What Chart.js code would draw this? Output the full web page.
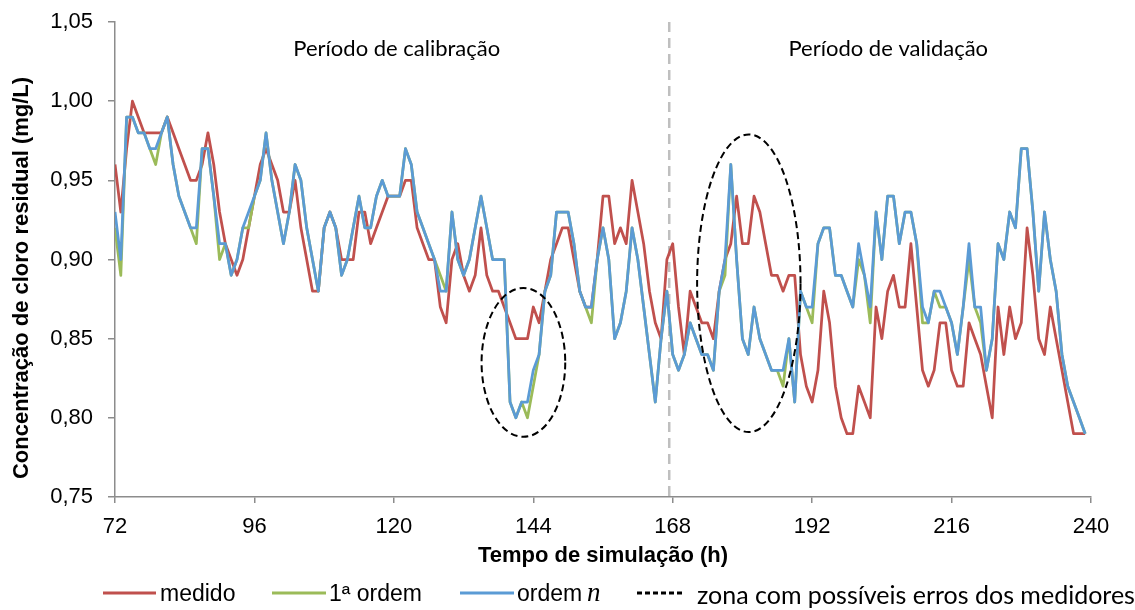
<!DOCTYPE html>
<html lang="pt">
<head>
<meta charset="UTF-8">
<title>Cloro residual - medido vs simulado</title>
<script src="https://cdn.jsdelivr.net/npm/chart.js"></script>
<style>
  body { margin: 0; background: #fff; }
  #wrap { width: 1135px; height: 610px; }
</style>
</head>
<body>
<div id="wrap"><canvas id="cloroChart" width="1135" height="610"></canvas></div>
<script>
// tempo de simulação (h), passo horário de 72 a 239
const horas = Array.from({ length: 168 }, (_, i) => 72 + i);

const medido = [
  0.96, 0.93, 0.97, 1.00, 0.99, 0.98, 0.98, 0.98, 0.98, 0.99,
  0.98, 0.97, 0.96, 0.95, 0.95, 0.96, 0.98, 0.96, 0.93, 0.91,
  0.90, 0.89, 0.90, 0.92, 0.94, 0.96, 0.97, 0.96, 0.95, 0.93,
  0.93, 0.95, 0.92, 0.90, 0.88, 0.88, 0.92, 0.93, 0.92, 0.90,
  0.90, 0.90, 0.93, 0.93, 0.91, 0.92, 0.93, 0.94, 0.94, 0.94,
  0.95, 0.95, 0.92, 0.91, 0.90, 0.90, 0.87, 0.86, 0.90, 0.91,
  0.89, 0.88, 0.89, 0.92, 0.89, 0.88, 0.88, 0.87, 0.86, 0.85,
  0.85, 0.85, 0.87, 0.86, 0.88, 0.90, 0.91, 0.92, 0.92, 0.90,
  0.88, 0.87, 0.87, 0.90, 0.94, 0.94, 0.91, 0.92, 0.91, 0.95,
  0.93, 0.91, 0.88, 0.86, 0.85, 0.90, 0.91, 0.87, 0.84, 0.88,
  0.87, 0.86, 0.86, 0.85, 0.88, 0.90, 0.91, 0.94, 0.91, 0.91,
  0.94, 0.93, 0.91, 0.89, 0.89, 0.88, 0.89, 0.89, 0.84, 0.82,
  0.81, 0.83, 0.88, 0.86, 0.82, 0.80, 0.79, 0.79, 0.82, 0.81,
  0.80, 0.87, 0.85, 0.88, 0.89, 0.87, 0.87, 0.91, 0.87, 0.83,
  0.82, 0.83, 0.86, 0.86, 0.83, 0.82, 0.82, 0.86, 0.85, 0.84,
  0.82, 0.80, 0.87, 0.84, 0.87, 0.85, 0.86, 0.92, 0.89, 0.85,
  0.84, 0.87, 0.85, 0.83, 0.81, 0.79, 0.79, 0.79
];

const primeiraOrdem = [
  0.92, 0.89, 0.99, 0.99, 0.98, 0.98, 0.97, 0.96, 0.98, 0.99,
  0.96, 0.94, 0.93, 0.92, 0.91, 0.97, 0.97, 0.94, 0.90, 0.91,
  0.89, 0.90, 0.92, 0.92, 0.94, 0.95, 0.98, 0.95, 0.93, 0.91,
  0.93, 0.96, 0.95, 0.92, 0.90, 0.88, 0.92, 0.93, 0.92, 0.89,
  0.90, 0.92, 0.94, 0.92, 0.92, 0.94, 0.95, 0.94, 0.94, 0.94,
  0.97, 0.96, 0.93, 0.92, 0.91, 0.90, 0.89, 0.88, 0.93, 0.90,
  0.89, 0.90, 0.92, 0.94, 0.92, 0.90, 0.90, 0.90, 0.81, 0.80,
  0.81, 0.80, 0.82, 0.84, 0.88, 0.89, 0.93, 0.93, 0.93, 0.91,
  0.88, 0.87, 0.86, 0.90, 0.92, 0.90, 0.85, 0.86, 0.88, 0.92,
  0.90, 0.87, 0.84, 0.81, 0.85, 0.88, 0.84, 0.83, 0.84, 0.86,
  0.85, 0.84, 0.84, 0.83, 0.88, 0.89, 0.96, 0.90, 0.85, 0.84,
  0.87, 0.85, 0.84, 0.83, 0.83, 0.82, 0.85, 0.81, 0.88, 0.87,
  0.86, 0.91, 0.92, 0.92, 0.89, 0.89, 0.88, 0.87, 0.90, 0.89,
  0.86, 0.93, 0.90, 0.94, 0.94, 0.91, 0.93, 0.93, 0.91, 0.86,
  0.86, 0.88, 0.87, 0.87, 0.86, 0.84, 0.87, 0.90, 0.87, 0.86,
  0.83, 0.85, 0.91, 0.90, 0.93, 0.92, 0.97, 0.97, 0.93, 0.88,
  0.93, 0.90, 0.88, 0.84, 0.82, 0.81, 0.80, 0.79
];

const ordemN = [
  0.93, 0.90, 0.99, 0.99, 0.98, 0.98, 0.97, 0.97, 0.98, 0.99,
  0.96, 0.94, 0.93, 0.92, 0.92, 0.97, 0.97, 0.94, 0.91, 0.91,
  0.89, 0.90, 0.92, 0.93, 0.94, 0.95, 0.98, 0.95, 0.93, 0.91,
  0.93, 0.96, 0.95, 0.92, 0.90, 0.88, 0.92, 0.93, 0.92, 0.89,
  0.90, 0.92, 0.94, 0.92, 0.92, 0.94, 0.95, 0.94, 0.94, 0.94,
  0.97, 0.96, 0.93, 0.92, 0.91, 0.90, 0.88, 0.88, 0.93, 0.90,
  0.89, 0.90, 0.92, 0.94, 0.92, 0.90, 0.90, 0.90, 0.81, 0.80,
  0.81, 0.81, 0.83, 0.84, 0.88, 0.89, 0.93, 0.93, 0.93, 0.91,
  0.88, 0.87, 0.87, 0.90, 0.92, 0.90, 0.85, 0.86, 0.88, 0.92,
  0.90, 0.87, 0.84, 0.81, 0.85, 0.88, 0.84, 0.83, 0.84, 0.86,
  0.85, 0.84, 0.84, 0.83, 0.88, 0.90, 0.96, 0.90, 0.85, 0.84,
  0.87, 0.85, 0.84, 0.83, 0.83, 0.83, 0.85, 0.81, 0.88, 0.87,
  0.87, 0.91, 0.92, 0.92, 0.89, 0.89, 0.88, 0.87, 0.91, 0.89,
  0.87, 0.93, 0.90, 0.94, 0.94, 0.91, 0.93, 0.93, 0.91, 0.87,
  0.86, 0.88, 0.88, 0.87, 0.86, 0.84, 0.87, 0.91, 0.87, 0.87,
  0.83, 0.85, 0.91, 0.90, 0.93, 0.92, 0.97, 0.97, 0.93, 0.88,
  0.93, 0.90, 0.88, 0.84, 0.82, 0.81, 0.80, 0.79
];

const ticksX = [72, 96, 120, 144, 168, 192, 216, 240];
const ticksY = [0.75, 0.80, 0.85, 0.90, 0.95, 1.00, 1.05];

// fim do período de calibração (h)
const fimCalibracao = 167.4;
// zonas com possíveis erros dos medidores: [centro h, centro mg/L, raio h, raio mg/L]
const zonasErro = [
  [142.3, 0.835, 7.2, 0.047],
  [181.1, 0.885, 8.9, 0.094]
];
const periodos = [
  { texto: 'Período de calibração', h: 120.5 },
  { texto: 'Período de validação', h: 205.1 }
];

const corEixo = '#8c8c8c';
const fonteArial = '"Liberation Sans", Arial, sans-serif';
const fonteCalibri = 'Lato, "Open Sans", sans-serif';

const toPoints = serie => horas.map((h, i) => ({ x: h, y: serie[i] }));

// elementos extra: linha de separação, elipses, rótulos e legenda
const extras = {
  id: 'extras',
  beforeDatasetsDraw(chart) {
    const { ctx, chartArea, scales } = chart;
    const x = scales.x.getPixelForValue(fimCalibracao);
    ctx.save();
    ctx.strokeStyle = '#bfbfbf';
    ctx.lineWidth = 2.5;
    ctx.setLineDash([10, 6]);
    ctx.beginPath();
    ctx.moveTo(x, chartArea.top);
    ctx.lineTo(x, chartArea.bottom);
    ctx.stroke();
    ctx.restore();
  },
  afterDatasetsDraw(chart) {
    const { ctx, scales } = chart;
    const sx = scales.x, sy = scales.y;
    ctx.save();
    ctx.strokeStyle = '#000';
    ctx.lineWidth = 2;
    ctx.setLineDash([7, 4]);
    zonasErro.forEach(([h, c, rh, rc]) => {
      const cx = sx.getPixelForValue(h);
      const cy = sy.getPixelForValue(c);
      const rx = Math.abs(sx.getPixelForValue(h + rh) - cx);
      const ry = Math.abs(sy.getPixelForValue(c + rc) - cy);
      ctx.beginPath();
      ctx.ellipse(cx, cy, rx, ry, 0, 0, Math.PI * 2);
      ctx.stroke();
    });
    ctx.setLineDash([]);

    ctx.fillStyle = '#000';
    ctx.font = '22px ' + fonteCalibri;
    ctx.textAlign = 'center';
    ctx.textBaseline = 'alphabetic';
    periodos.forEach(p => ctx.fillText(p.texto, sx.getPixelForValue(p.h), 56));
    ctx.restore();
  },
  afterDraw(chart) {
    const { ctx } = chart;
    ctx.save();

    // título do eixo y
    ctx.translate(22, 278);
    ctx.rotate(-Math.PI / 2);
    ctx.font = 'bold 22px ' + fonteArial;
    ctx.fillStyle = '#000';
    ctx.textAlign = 'center';
    ctx.textBaseline = 'middle';
    ctx.fillText('Concentração de cloro residual (mg/L)', 0, 0);
    ctx.setTransform(1, 0, 0, 1, 0, 0);

    // legenda
    const yLeg = 593;
    const amostra = (x0, x1, cor, tracejado) => {
      ctx.strokeStyle = cor;
      ctx.lineWidth = 3;
      ctx.setLineDash(tracejado ? [5, 3] : []);
      ctx.beginPath();
      ctx.moveTo(x0, yLeg);
      ctx.lineTo(x1, yLeg);
      ctx.stroke();
    };
    ctx.textAlign = 'left';
    ctx.textBaseline = 'alphabetic';
    ctx.font = '23px ' + fonteArial;

    amostra(103, 156, '#C0504D');
    ctx.fillText('medido', 160, 601);

    amostra(272, 326, '#9BBB59');
    ctx.fillText('1ª ordem', 329, 601);

    amostra(460, 514, '#5B9BD5');
    ctx.fillText('ordem', 517, 601);
    ctx.font = 'italic 27px "Liberation Serif", serif';
    ctx.fillText('n', 587, 601);

    amostra(637, 684, '#000', true);
    ctx.font = '25px ' + fonteCalibri;
    ctx.fillText('zona com possíveis erros dos medidores', 697, 604);
    ctx.restore();
  }
};

const ctx = document.getElementById('cloroChart').getContext('2d');

new Chart(ctx, {
  type: 'line',
  data: {
    datasets: [
      { label: 'medido', data: toPoints(medido), borderColor: '#C0504D', order: 3 },
      { label: '1ª ordem', data: toPoints(primeiraOrdem), borderColor: '#9BBB59', order: 2 },
      { label: 'ordem n', data: toPoints(ordemN), borderColor: '#5B9BD5', order: 1 }
    ]
  },
  options: {
    responsive: false,
    animation: false,
    devicePixelRatio: 1,
    layout: { padding: { top: 22, right: 44, bottom: 0, left: 0 } },
    elements: {
      point: { radius: 0 },
      line: { borderWidth: 2.75, tension: 0, borderJoinStyle: 'round', fill: false }
    },
    plugins: {
      legend: { display: false },
      tooltip: { enabled: false }
    },
    scales: {
      x: {
        type: 'linear',
        min: 72,
        max: 240,
        afterBuildTicks: s => { s.ticks = ticksX.map(v => ({ value: v })); },
        afterFit: s => { s.height = 113; },
        ticks: { font: { family: fonteArial, size: 22 }, color: '#000', padding: 11, maxRotation: 0 },
        grid: { display: true, drawOnChartArea: false, drawTicks: true, tickLength: 6, color: corEixo, lineWidth: 1.5 },
        border: { display: true, color: corEixo, width: 1.5 },
        title: {
          display: true,
          text: 'Tempo de simulação (h)',
          color: '#000',
          font: { family: fonteArial, size: 22, weight: 'bold' },
          padding: { top: 0, bottom: 41 }
        }
      },
      y: {
        min: 0.75,
        max: 1.05,
        afterBuildTicks: s => { s.ticks = ticksY.map(v => ({ value: v })); },
        // largura fixa do eixo; sem folga extra acima do último rótulo
        afterFit: s => { s.width = 115; s.paddingTop = 0; s.paddingBottom = 0; },
        ticks: {
          font: { family: fonteArial, size: 22 },
          color: '#000',
          padding: 15,
          callback: v => v.toFixed(2).replace('.', ',')
        },
        grid: { display: true, drawOnChartArea: false, drawTicks: true, tickLength: 7, color: corEixo, lineWidth: 1.5 },
        border: { display: true, color: corEixo, width: 1.5 }
      }
    }
  },
  plugins: [extras]
});
</script>
</body>
</html>
